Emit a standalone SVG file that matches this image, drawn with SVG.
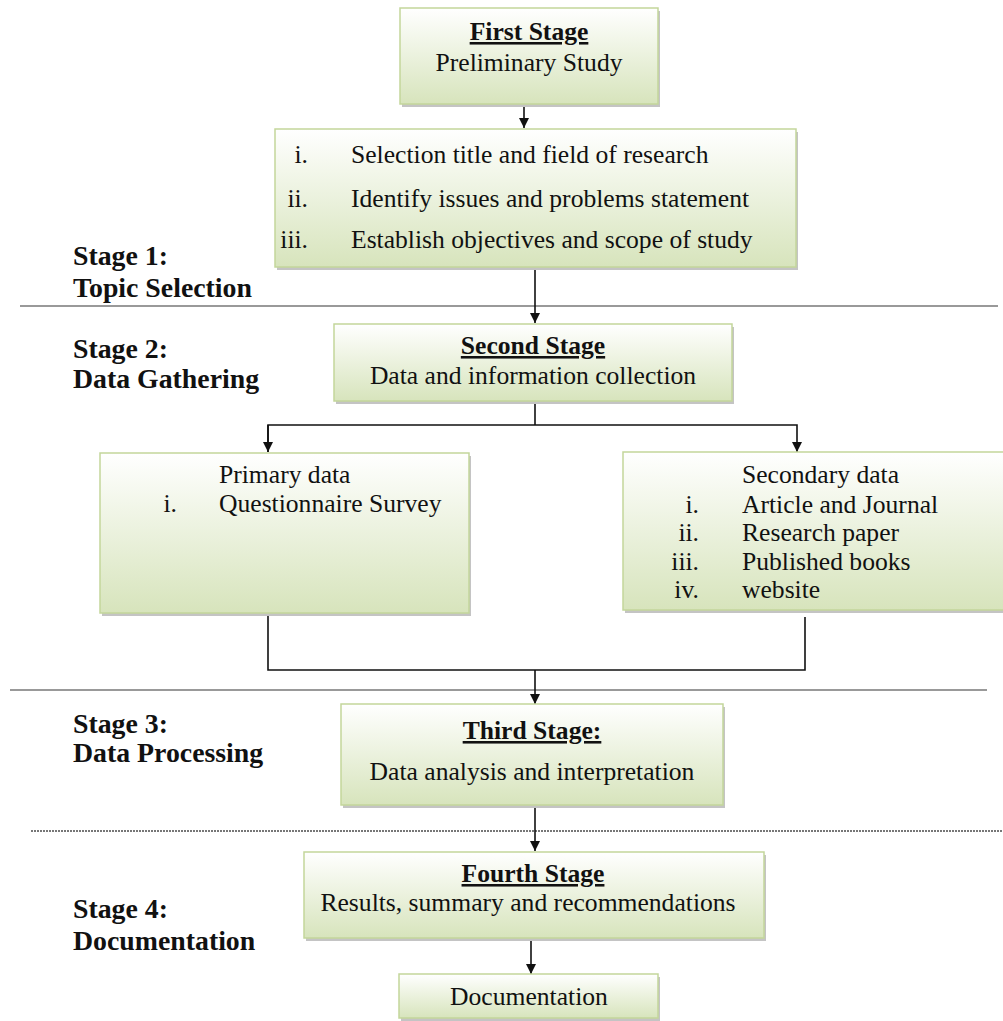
<svg xmlns="http://www.w3.org/2000/svg" width="1003" height="1021" viewBox="0 0 1003 1021">
<style>
.box{fill:url(#g);stroke:#c3d69b;stroke-width:1.5}
.sh{fill:#c4c4c4}
.t{font-family:'Liberation Serif','Times New Roman',Times,'DejaVu Serif',serif;font-size:25.6px;fill:#111}
.b{font-weight:bold;text-decoration:underline}
.lab{font-family:'Liberation Serif','Times New Roman',Times,'DejaVu Serif',serif;font-size:27.8px;font-weight:bold;fill:#111}
.c{fill:none;stroke:#111;stroke-width:1.6}
.sep{stroke:#999;stroke-width:2}
</style>
<defs>
<linearGradient id="g" x1="0" y1="0" x2="0" y2="1">
<stop offset="0" stop-color="#ffffff"/>
<stop offset="1" stop-color="#d7e4bc"/>
</linearGradient>
<marker id="ar" viewBox="0 0 10 10" refX="10" refY="5" markerWidth="10" markerHeight="10" markerUnits="userSpaceOnUse" orient="auto">
<path d="M0,0 L10,5 L0,10 z" fill="#111"/>
</marker>
</defs>
<rect width="1003" height="1021" fill="#fff"/>

<g id="separators">
<line class="sep" x1="20" y1="306" x2="998" y2="306"/>
<line class="sep" x1="10" y1="690" x2="987" y2="690"/>
<line x1="31" y1="831" x2="1003" y2="831" stroke="#777" stroke-width="2" stroke-dasharray="2 1"/>
</g>

<g id="stage-labels">
<text class="lab" x="73" y="265">Stage 1:</text>
<text class="lab" x="73" y="297">Topic Selection</text>
<text class="lab" x="73" y="358">Stage 2:</text>
<text class="lab" x="73" y="388">Data Gathering</text>
<text class="lab" x="73" y="733">Stage 3:</text>
<text class="lab" x="73" y="762">Data Processing</text>
<text class="lab" x="73" y="918">Stage 4:</text>
<text class="lab" x="73" y="950">Documentation</text>
</g>

<g id="connectors">
<line class="c" x1="524" y1="105" x2="524" y2="128" marker-end="url(#ar)"/>
<line class="c" x1="535" y1="268" x2="535" y2="323" marker-end="url(#ar)"/>
<polyline class="c" points="535,401 535,425"/>
<polyline class="c" points="268,452 268,425 797,425 797,452" marker-end="url(#ar)"/>
<line class="c" x1="268" y1="425" x2="268" y2="452" marker-end="url(#ar)"/>
<polyline class="c" points="268,613 268,670 805,670 805,617"/>
<line class="c" x1="535" y1="670" x2="535" y2="704" marker-end="url(#ar)"/>
<line class="c" x1="535" y1="805" x2="535" y2="851" marker-end="url(#ar)"/>
<line class="c" x1="531" y1="938" x2="531" y2="974" marker-end="url(#ar)"/>
</g>

<g id="first-stage">
<rect class="sh" x="402" y="11" width="258" height="96"/>
<rect class="box" x="400" y="8" width="258" height="96"/>
<text class="t b" x="529" y="40" text-anchor="middle">First Stage</text>
<text class="t" x="529" y="71" text-anchor="middle">Preliminary Study</text>
</g>

<g id="topic-tasks">
<rect class="sh" x="277" y="132" width="521" height="138"/>
<rect class="box" x="275" y="129" width="521" height="138"/>
<text class="t" x="308" y="163" text-anchor="end">i.</text>
<text class="t" x="351" y="163">Selection title and field of research</text>
<text class="t" x="308" y="207" text-anchor="end">ii.</text>
<text class="t" x="351" y="207">Identify issues and problems statement</text>
<text class="t" x="308" y="248" text-anchor="end">iii.</text>
<text class="t" x="351" y="248">Establish objectives and scope of study</text>
</g>

<g id="second-stage">
<rect class="sh" x="336" y="327" width="398" height="77"/>
<rect class="box" x="334" y="324" width="398" height="77"/>
<text class="t b" x="533" y="354" text-anchor="middle">Second Stage</text>
<text class="t" x="533" y="384" text-anchor="middle">Data and information collection</text>
</g>

<g id="primary-data">
<rect class="sh" x="102" y="456" width="369" height="160"/>
<rect class="box" x="100" y="453" width="369" height="160"/>
<text class="t" x="219" y="483">Primary data</text>
<text class="t" x="177" y="512" text-anchor="end">i.</text>
<text class="t" x="219" y="512">Questionnaire Survey</text>
</g>

<g id="secondary-data">
<rect class="sh" x="625" y="455" width="390" height="158"/>
<rect class="box" x="623" y="452" width="390" height="158"/>
<text class="t" x="742" y="483">Secondary data</text>
<text class="t" x="699" y="513" text-anchor="end">i.</text>
<text class="t" x="742" y="513">Article and Journal</text>
<text class="t" x="699" y="541" text-anchor="end">ii.</text>
<text class="t" x="742" y="541">Research paper</text>
<text class="t" x="699" y="570" text-anchor="end">iii.</text>
<text class="t" x="742" y="570">Published books</text>
<text class="t" x="699" y="598" text-anchor="end">iv.</text>
<text class="t" x="742" y="598">website</text>
</g>

<g id="third-stage">
<rect class="sh" x="343" y="707" width="382" height="101"/>
<rect class="box" x="341" y="704" width="382" height="101"/>
<text class="t b" x="532" y="739" text-anchor="middle">Third Stage:</text>
<text class="t" x="532" y="780" text-anchor="middle">Data analysis and interpretation</text>
</g>

<g id="fourth-stage">
<rect class="sh" x="306" y="855" width="460" height="86"/>
<rect class="box" x="304" y="852" width="460" height="86"/>
<text class="t b" x="533" y="882" text-anchor="middle">Fourth Stage</text>
<text class="t" x="528" y="911" text-anchor="middle">Results, summary and recommendations</text>
</g>

<g id="documentation">
<rect class="sh" x="401" y="977" width="259" height="44"/>
<rect class="box" x="399" y="974" width="259" height="44"/>
<text class="t" x="529" y="1005" text-anchor="middle">Documentation</text>
</g>
</svg>
